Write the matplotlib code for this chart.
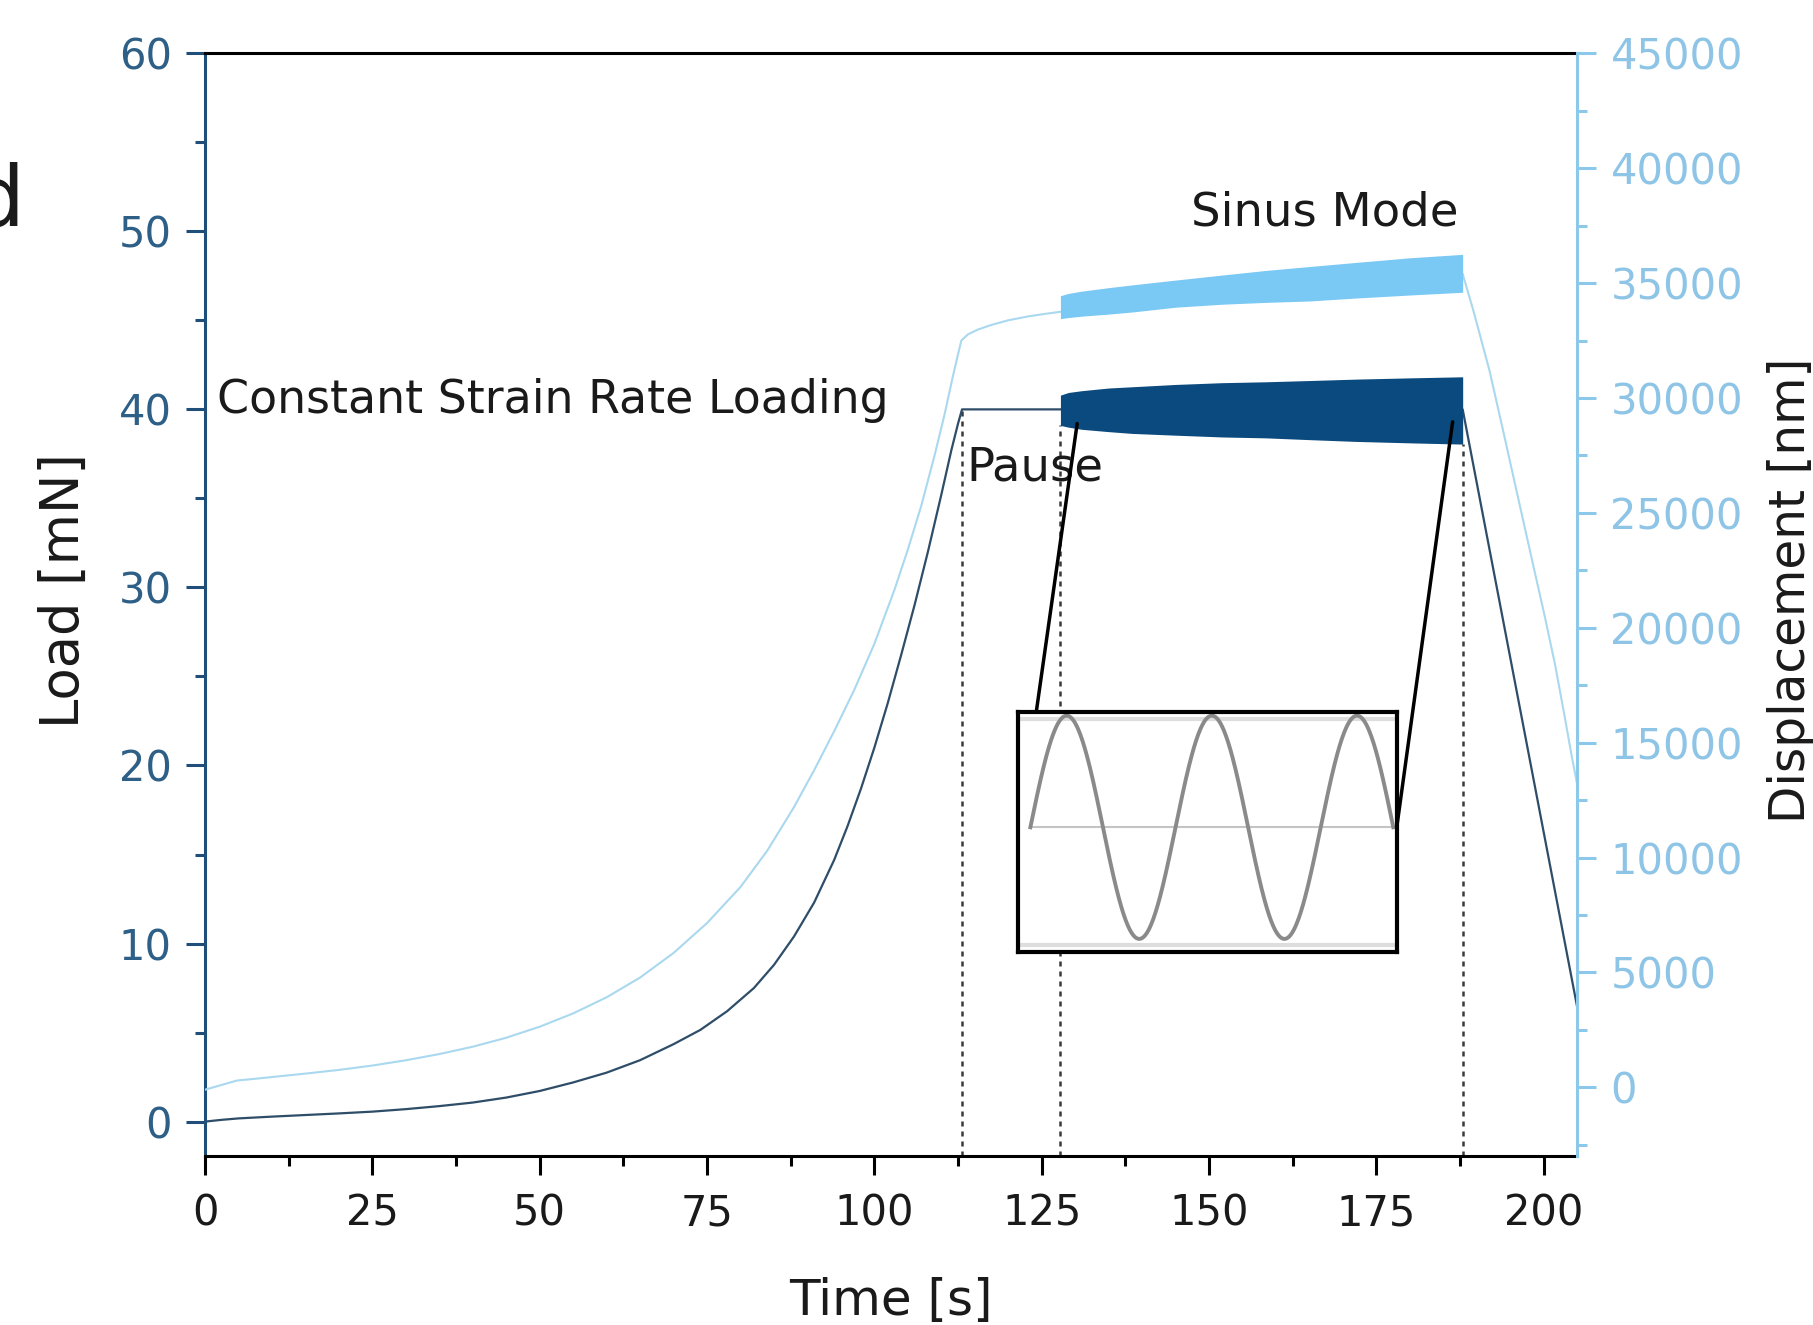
import matplotlib
matplotlib.use('Agg')
import matplotlib.pyplot as plt
import numpy as np
from matplotlib.ticker import MultipleLocator
from matplotlib.patches import ConnectionPatch

# 1. DATA
# load curve: constant strain rate loading, pause, sinus mode (hidden under band), unloading
load_t = [0, 2.5, 5, 10, 15, 20, 25, 30, 35, 40, 45, 50, 55, 60, 65, 70, 74, 78, 82,
          85, 88, 91, 94, 96, 98, 100, 102, 104, 106, 108, 110, 111.5, 112.5, 113.1,
          127.8, 157.8, 187.9, 205.0]
load_v = [0, 0.1, 0.18, 0.28, 0.37, 0.46, 0.56, 0.7, 0.87, 1.07, 1.35, 1.72, 2.2, 2.75,
          3.45, 4.35, 5.15, 6.2, 7.5, 8.8, 10.4, 12.3, 14.7, 16.6, 18.7, 21.0, 23.5, 26.2,
          29.0, 32.0, 35.2, 37.7, 39.2, 40.0, 40.0, 40.0, 40.0, 6.45]

# displacement curve
disp_t = [0, 4.8, 7, 10, 15, 20, 25, 30, 35, 40, 45, 50, 55, 60, 65, 70, 75, 80, 84, 88,
          91, 94, 97, 100, 103, 105, 107, 109, 110.5, 111.7, 112.5, 113.0, 114, 115.5,
          117.5, 120, 123, 125.5, 127.8, 157.8,
          187.9, 189.5, 191.9, 194, 196.3, 198.3, 200.2, 201.7, 203.1, 204.2, 205.0]
disp_v = [-100, 300, 360, 450, 600, 760, 950, 1180, 1450, 1770, 2160, 2640, 3220, 3920,
          4780, 5850, 7150, 8720, 10300, 12200, 13800, 15500, 17300, 19300, 21650, 23400,
          25300, 27500, 29300, 30900, 31900, 32500, 32770, 32980, 33180, 33380, 33550,
          33660, 33750, 34900,
          35400, 33800, 31200, 28500, 25500, 22900, 20450, 18400, 16200, 14400, 13200]

# sinus mode envelopes
band_t = [127.8, 129, 131, 135, 138.5, 145, 152, 158.5, 165, 172, 180, 187.9]
load_top = [40.8, 40.95, 41.05, 41.2, 41.27, 41.4, 41.5, 41.55, 41.62, 41.7, 41.77, 41.83]
load_bot = [39.1, 39.0, 38.88, 38.75, 38.65, 38.55, 38.45, 38.4, 38.3, 38.2, 38.12, 38.05]
disp_top = [34450, 34550, 34650, 34800, 34920, 35130, 35350, 35550, 35720, 35900, 36100, 36250]
disp_bot = [33450, 33500, 33560, 33650, 33740, 33950, 34080, 34160, 34220, 34350, 34480, 34600]

# segment boundaries (pause start, sinus start, sinus end)
phase_t = [113.1, 127.8, 187.9]
phase_load = [40.0, 39.1, 38.05]

inset_cycles = 2.5

# 2. STYLE
dark = '#2e4d68'
light = '#a9d8ef'
dark_band = '#0a4a7e'
light_band = '#7ac8f4'
left_col = '#1f4e79'
left_lbl = '#2e5f86'
right_col = '#8cc8ea'
right_lbl = '#8ec5e6'

plt.rcParams['font.family'] = ['DejaVu Sans']

fig = plt.figure(figsize=(18.13, 13.25), dpi=100)
ax = fig.add_axes([0.1131, 0.1273, 0.7568, 0.8325])
ax2 = ax.twinx()

# 3. DRAW
ax.vlines(phase_t, -1.95, phase_load, colors='#3a3a3a', linestyles=(0, (2, 2)), lw=1.8, zorder=1)
ax.plot(load_t, load_v, color=dark, lw=1.6, zorder=2)
ax.fill_between(band_t, load_bot, load_top, color=dark_band, lw=0, zorder=3)
ax2.plot(disp_t, disp_v, color=light, lw=1.5, zorder=2)
ax2.fill_between(band_t, disp_bot, disp_top, color=light_band, lw=0, zorder=3)

ax.set_xlim(0, 205)
ax.set_ylim(-1.95, 60)
ax2.set_ylim(-3000, 45000)

ax.xaxis.set_major_locator(MultipleLocator(25))
ax.xaxis.set_minor_locator(MultipleLocator(12.5))
ax.yaxis.set_major_locator(MultipleLocator(10))
ax.yaxis.set_minor_locator(MultipleLocator(5))
ax2.yaxis.set_major_locator(MultipleLocator(5000))
ax2.yaxis.set_minor_locator(MultipleLocator(2500))

ax.tick_params(axis='x', which='major', direction='out', length=14, width=2.2,
               color='black', labelcolor='#1a1a1a', labelsize=30, pad=12)
ax.tick_params(axis='x', which='minor', direction='out', length=7, width=2.2, color='black')
ax.tick_params(axis='y', which='major', direction='out', length=14, width=2.2,
               color=left_col, labelcolor=left_lbl, labelsize=30, pad=10)
ax.tick_params(axis='y', which='minor', direction='out', length=7, width=2.2, color=left_col)
ax2.tick_params(axis='y', which='major', direction='out', length=14, width=2.2,
                color=right_col, labelcolor=right_lbl, labelsize=30, pad=10)
ax2.tick_params(axis='y', which='minor', direction='out', length=7, width=2.2, color=right_col)

for s in ['top', 'bottom']:
    ax.spines[s].set_color('black')
    ax.spines[s].set_linewidth(2.2)
ax.spines['left'].set_color(left_col)
ax.spines['left'].set_linewidth(2.2)
ax.spines['right'].set_visible(False)
for s in ['top', 'bottom', 'left']:
    ax2.spines[s].set_visible(False)
ax2.spines['right'].set_color(right_col)
ax2.spines['right'].set_linewidth(2.2)

# 4. LABELS
ax.set_xlabel('Time [s]', fontsize=36, color='#1a1a1a', va='center')
ax.xaxis.set_label_coords(0.5, -0.131)
ax.set_ylabel('Load [mN]', fontsize=38, color='#1a1a1a', va='center')
ax.yaxis.set_label_coords(-0.103, 0.513)
ax2.set_ylabel('Displacement [nm]', fontsize=35, color='#1a1a1a', va='center')
ax2.yaxis.set_label_coords(1.156, 0.513)

ax.text(1.8, 39.8, 'Constant Strain Rate Loading', fontsize=33, color='#1a1a1a',
        ha='left', va='baseline', zorder=5)
ax.text(113.8, 36.0, 'Pause', fontsize=33.5, color='#1a1a1a', ha='left', va='baseline', zorder=5)
ax.text(147.3, 50.3, 'Sinus Mode', fontsize=33.5, color='#1a1a1a', ha='left', va='baseline', zorder=5)

# partial panel letter cropped at the left edge, as in the reference
fig.text(-0.016, 0.830, 'd', fontsize=60, color='#1a1a1a', ha='left', va='baseline')

# 5. INSET (sinusoidal signal)
axins = ax.inset_axes([121.5, 9.52, 56.6, 13.48], transform=ax.transData, zorder=6)
phase = np.linspace(0, inset_cycles, 500)
axins.axhline(0.97, color='#dddddd', lw=3)
axins.axhline(-1.056, color='#dddddd', lw=3)
axins.plot([0, inset_cycles], [0, 0], color='#c4c4c4', lw=1.5)
axins.plot(phase, np.sin(2 * np.pi * phase), color='#8a8a8a', lw=2.8)
axins.set_xlim(-0.0835, 2.526)
axins.set_ylim(-1.118, 1.032)
axins.set_xticks([])
axins.set_yticks([])
for s in axins.spines.values():
    s.set_linewidth(3)
    s.set_color('black')

con1 = ConnectionPatch(xyA=(130.3, 39.2), coordsA=ax.transData,
                       xyB=(0.0475, 1.0), coordsB=axins.transAxes, color='black', lw=2.5)
con2 = ConnectionPatch(xyA=(186.4, 39.3), coordsA=ax.transData,
                       xyB=(1.0, 0.53), coordsB=axins.transAxes, color='black', lw=2.5)
con1.set_zorder(10)
con2.set_zorder(10)
fig.add_artist(con1)
fig.add_artist(con2)

fig.savefig('out.png', dpi=100, facecolor='white')
